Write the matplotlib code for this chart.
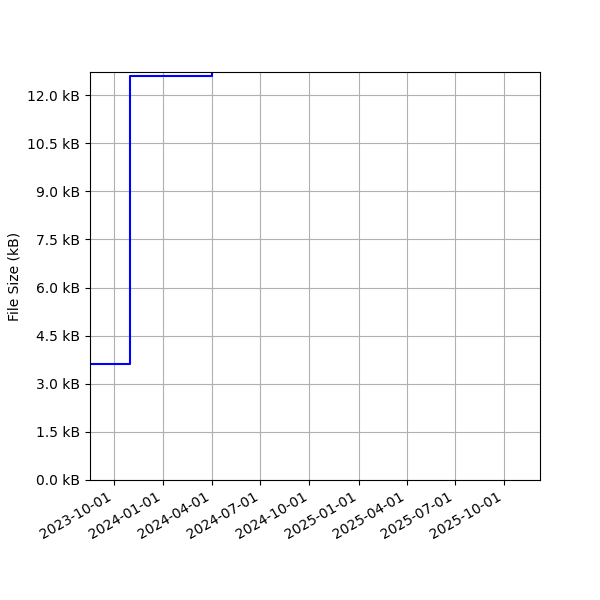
import pandas as pd
import matplotlib
matplotlib.use('Agg')
import matplotlib.pyplot as plt
import matplotlib.dates as mdates
import matplotlib.ticker as mticker

# file size history (kB)
dates = ['2023-08-01', '2023-10-31', '2024-04-02', '2025-12-31']
sizes_kb = [3.63, 12.60, 14.50, 14.50]

history = pd.DataFrame({'Date': pd.to_datetime(dates), 'Size': sizes_kb})

fig, ax = plt.subplots(figsize=(6, 6), dpi=100)
ax.plot(history['Date'], history['Size'], color='blue', drawstyle='steps-post', linewidth=1.5)

ax.set_xlim(pd.Timestamp('2023-08-17'), pd.Timestamp('2025-12-07'))
ax.set_ylim(0, 12.72)
ax.yaxis.set_major_locator(mticker.MultipleLocator(1.5))
ax.yaxis.set_major_formatter(mticker.FuncFormatter(lambda v, p: '{:.1f} kB'.format(v)))
ax.xaxis.set_major_locator(mdates.MonthLocator(bymonth=[1, 4, 7, 10]))
ax.xaxis.set_major_formatter(mdates.DateFormatter('%Y-%m-%d'))
ax.set_ylabel('File Size (kB)')
ax.grid(True)

fig.subplots_adjust(left=0.15, right=0.9, top=0.88, bottom=0.2)
plt.setp(ax.get_xticklabels(), rotation=30, ha='right')
plt.savefig('out.png', dpi=100)
